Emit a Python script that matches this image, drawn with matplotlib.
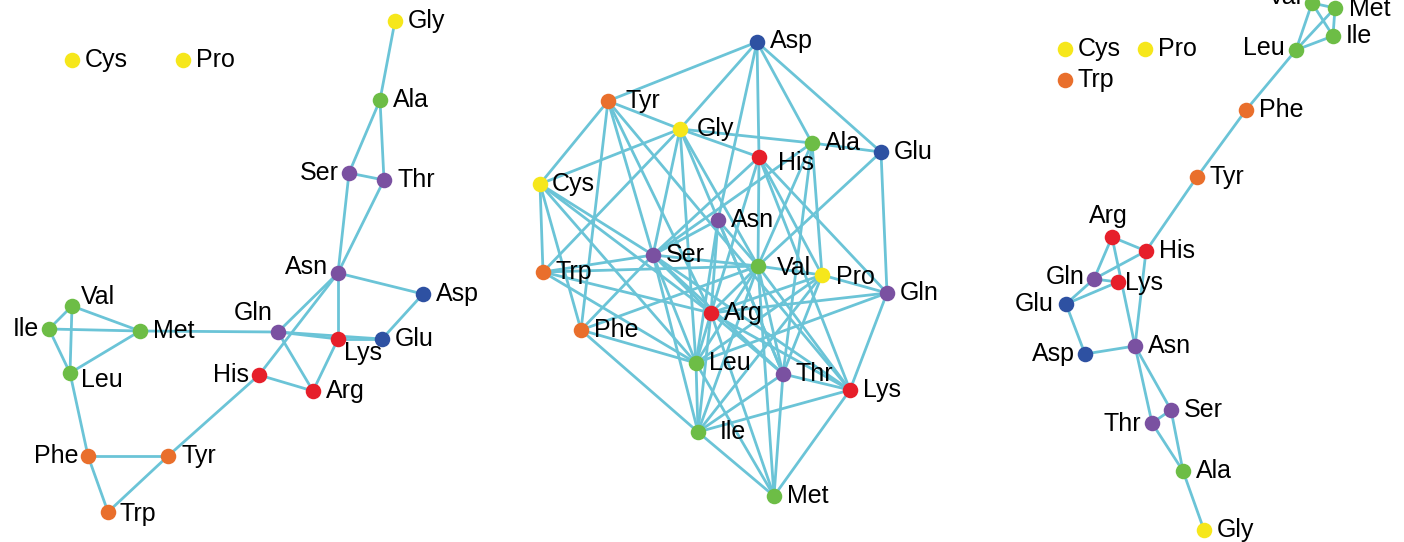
import matplotlib.pyplot as plt
from matplotlib.collections import LineCollection

plt.rcParams['font.family'] = ['Liberation Sans', 'DejaVu Sans']

# residue classes -> node colour
groups = {
    'Cys': 'yellow', 'Pro': 'yellow', 'Gly': 'yellow',
    'Ala': 'green', 'Val': 'green', 'Ile': 'green', 'Leu': 'green', 'Met': 'green',
    'Phe': 'orange', 'Tyr': 'orange', 'Trp': 'orange',
    'Ser': 'purple', 'Thr': 'purple', 'Asn': 'purple', 'Gln': 'purple',
    'Asp': 'blue', 'Glu': 'blue',
    'His': 'red', 'Lys': 'red', 'Arg': 'red',
}
group_colors = {
    'yellow': '#f6e71b', 'green': '#6dbd46', 'orange': '#e96f2c',
    'purple': '#7a51a1', 'blue': '#2e51a2', 'red': '#e61f2a',
}
EDGE = '#6bc4d7'

# ---- network 1 ----
pos1 = {
    'Gly': (395, 21), 'Ala': (380, 100), 'Ser': (349, 173), 'Thr': (384, 180),
    'Asn': (338, 273), 'Asp': (423, 294), 'Gln': (278, 332), 'Lys': (338, 339),
    'Glu': (382, 339), 'His': (259, 375), 'Arg': (313, 391), 'Val': (72, 306),
    'Ile': (49, 329), 'Met': (140, 331), 'Leu': (70, 373), 'Phe': (88, 456),
    'Tyr': (168, 456), 'Trp': (108, 512), 'Cys': (72, 60), 'Pro': (183, 60),
}
edges1 = [
    ('Gly', 'Ala'), ('Ala', 'Ser'), ('Ala', 'Thr'), ('Ser', 'Thr'), ('Ser', 'Asn'),
    ('Thr', 'Asn'), ('Asn', 'Asp'), ('Asn', 'Lys'), ('Asn', 'Gln'), ('Asn', 'His'),
    ('Asp', 'Glu'), ('Glu', 'Lys'), ('Gln', 'Lys'), ('Gln', 'Glu'), ('Met', 'Gln'),
    ('Gln', 'Arg'), ('Lys', 'Arg'), ('His', 'Arg'), ('His', 'Tyr'),
    ('Val', 'Ile'), ('Val', 'Met'), ('Val', 'Leu'), ('Ile', 'Met'), ('Ile', 'Leu'),
    ('Leu', 'Met'), ('Leu', 'Phe'), ('Phe', 'Tyr'), ('Phe', 'Trp'), ('Tyr', 'Trp'),
]
labels1 = {
    'Ser': (-10, 0, 'right'), 'Asn': (-10, -6, 'right'), 'Gln': (-5, -19, 'right'),
    'Lys': (6, 14, 'left'), 'His': (-10, 0, 'right'), 'Val': (9, -9, 'left'),
    'Ile': (-10, 0, 'right'), 'Leu': (11, 7, 'left'), 'Phe': (-10, 0, 'right'),
    'Trp': (12, 2, 'left'),
}

# ---- network 2 ----
pos2 = {
    'Asp': (757, 42), 'Tyr': (608, 101), 'Gly': (680, 129), 'His': (759, 157),
    'Ala': (812, 143), 'Glu': (881, 152), 'Cys': (540, 184), 'Asn': (718, 220),
    'Ser': (653, 255), 'Val': (758, 266), 'Pro': (822, 275), 'Trp': (543, 272),
    'Arg': (711, 313), 'Phe': (581, 330), 'Leu': (696, 363), 'Thr': (783, 374),
    'Lys': (850, 390), 'Ile': (698, 432), 'Met': (774, 496), 'Gln': (887, 293),
}
edges2 = [
    ('Asp', 'Tyr'), ('Asp', 'Gly'), ('Asp', 'Asn'), ('Asp', 'His'), ('Asp', 'Ala'), ('Asp', 'Glu'),
    ('Tyr', 'Gly'), ('Tyr', 'Cys'), ('Tyr', 'Phe'), ('Tyr', 'Ser'), ('Tyr', 'Lys'), ('Tyr', 'Arg'),
    ('Gly', 'Cys'), ('Gly', 'Trp'), ('Gly', 'His'), ('Gly', 'Ala'), ('Gly', 'Ser'), ('Gly', 'Leu'),
    ('Gly', 'Thr'), ('Gly', 'Val'),
    ('His', 'Ser'), ('His', 'Arg'), ('His', 'Val'), ('His', 'Pro'), ('His', 'Gln'), ('His', 'Lys'),
    ('Ala', 'Glu'), ('Ala', 'Ser'), ('Ala', 'Val'), ('Ala', 'Pro'), ('Ala', 'Thr'),
    ('Glu', 'Val'), ('Glu', 'Gln'),
    ('Cys', 'Trp'), ('Cys', 'Phe'), ('Cys', 'Ser'), ('Cys', 'Arg'), ('Cys', 'Leu'),
    ('Trp', 'Ser'), ('Trp', 'Arg'), ('Trp', 'Leu'), ('Trp', 'Val'),
    ('Phe', 'Val'), ('Phe', 'Leu'), ('Phe', 'Ile'), ('Phe', 'Ser'),
    ('Ser', 'Val'), ('Ser', 'Arg'), ('Ser', 'Leu'), ('Ser', 'Ile'), ('Ser', 'Thr'), ('Ser', 'Lys'),
    ('Ser', 'Asn'),
    ('Asn', 'Arg'), ('Asn', 'Val'), ('Asn', 'Thr'), ('Asn', 'Leu'),
    ('Val', 'Pro'), ('Val', 'Arg'), ('Val', 'Leu'), ('Val', 'Ile'), ('Val', 'Thr'), ('Val', 'Lys'),
    ('Val', 'Met'),
    ('Pro', 'Gln'), ('Pro', 'Arg'), ('Pro', 'Leu'), ('Pro', 'Thr'), ('Pro', 'Ile'),
    ('Gln', 'Arg'), ('Gln', 'Leu'), ('Gln', 'Lys'),
    ('Arg', 'Leu'), ('Arg', 'Ile'), ('Arg', 'Thr'), ('Arg', 'Lys'), ('Arg', 'Met'),
    ('Leu', 'Ile'), ('Leu', 'Met'),
    ('Thr', 'Lys'), ('Thr', 'Ile'), ('Thr', 'Met'),
    ('Lys', 'Ile'), ('Lys', 'Met'),
    ('Ile', 'Met'),
]
labels2 = {
    'Gly': (17, 0, 'left'), 'His': (19, 6, 'left'), 'Val': (19, 2, 'left'),
    'Cys': (12, 0, 'left'), 'Asp': (13, -1, 'left'), 'Tyr': (18, 0, 'left'),
    'Pro': (14, 2, 'left'), 'Ile': (22, 0, 'left'),
}

# ---- network 3 ----
pos3 = {
    'Val': (1312, 3), 'Met': (1335, 8), 'Ile': (1333, 36), 'Leu': (1296, 50),
    'Phe': (1246, 110), 'Tyr': (1197, 177), 'Arg': (1112, 237), 'His': (1146, 251),
    'Gln': (1094, 279), 'Lys': (1118, 282), 'Glu': (1066, 304), 'Asp': (1085, 354),
    'Asn': (1135, 346), 'Ser': (1171, 410), 'Thr': (1152, 423), 'Ala': (1183, 471),
    'Gly': (1204, 530), 'Cys': (1065, 49), 'Pro': (1145, 49), 'Trp': (1065, 80),
}
edges3 = [
    ('Val', 'Met'), ('Val', 'Ile'), ('Val', 'Leu'), ('Met', 'Ile'), ('Met', 'Leu'),
    ('Ile', 'Leu'), ('Leu', 'Phe'), ('Phe', 'Tyr'), ('Tyr', 'His'), ('Arg', 'His'),
    ('Arg', 'Gln'), ('Arg', 'Asn'), ('His', 'Gln'), ('His', 'Asn'), ('Gln', 'Lys'),
    ('Gln', 'Glu'), ('Lys', 'Glu'), ('Glu', 'Asp'), ('Asp', 'Asn'), ('Asn', 'Ser'),
    ('Asn', 'Thr'), ('Thr', 'Ser'), ('Thr', 'Ala'), ('Ser', 'Ala'), ('Ala', 'Gly'),
]
labels3 = {
    'Val': (-10, -6, 'right'), 'Leu': (-11, -2, 'right'), 'Arg': (-4, -21, 'center'),
    'Gln': (-9, -2, 'right'), 'Lys': (7, 1, 'left'), 'Glu': (-12, 0, 'right'),
    'Asp': (-10, 0, 'right'), 'Thr': (-11, 1, 'right'), 'Met': (14, 1, 'left'),
}

fig = plt.figure(figsize=(14.04, 5.42), dpi=100)
ax = fig.add_axes([0, 0, 1, 1])
ax.set_xlim(0, 1404)
ax.set_ylim(542, 0)
ax.axis('off')


def draw_network(pos, edges, labels):
    segs = [[pos[a], pos[b]] for a, b in edges]
    ax.add_collection(LineCollection(segs, colors=EDGE, linewidths=2.0, zorder=1))
    for name, (x, y) in pos.items():
        ax.scatter(x, y, s=125, color=group_colors[groups[name]], zorder=3, linewidths=0)
        dx, dy, ha = labels.get(name, (13, 0, 'left'))
        ax.text(x + dx, y + dy, name, fontsize=18, ha=ha, va='center', zorder=4)


draw_network(pos1, edges1, labels1)
draw_network(pos2, edges2, labels2)
draw_network(pos3, edges3, labels3)

fig.savefig('out.png', dpi=100)
